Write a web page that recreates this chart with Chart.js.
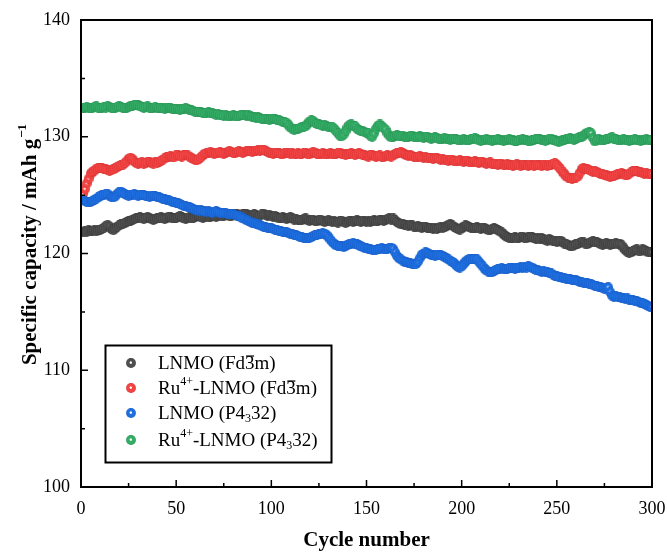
<!DOCTYPE html>
<html>
<head>
<meta charset="utf-8">
<script src="https://cdn.jsdelivr.net/npm/chart.js@4.4.1/dist/chart.umd.min.js"></script>
<style>
  html, body { margin: 0; padding: 0; background: #ffffff; }
  #wrap { width: 667px; height: 552px; position: relative; }
</style>
</head>
<body>
<div id="wrap"><canvas id="c"></canvas></div>
<script>
// ---------------- DATA ----------------
const cycles = Array.from({length: 300}, (_, i) => i + 1);

const xTicks = [0, 50, 100, 150, 200, 250, 300];
const yTicks = [100, 110, 120, 130, 140];

const seriesNames = ["LNMO (Fd3m)", "Ru4+-LNMO (Fd3m)", "LNMO (P4332)", "Ru4+-LNMO (P4332)"];

const lnmoFd3m = [
121.8,121.9,121.85,122.0,121.9,121.95,122.0,121.9,122.0,122.05,
122.1,122.2,122.35,122.45,122.3,122.1,122.0,122.15,122.3,122.4,
122.5,122.55,122.6,122.7,122.75,122.8,122.9,122.95,123.0,123.05,
123.1,123.05,122.95,123.0,123.1,123.05,122.95,122.9,122.95,123.0,
123.05,123.1,123.0,122.95,123.05,123.15,123.1,123.0,123.0,123.05,
123.1,123.2,123.1,123.0,122.95,123.05,123.1,123.0,123.05,123.15,
123.25,123.2,123.1,123.05,123.15,123.2,123.1,123.15,123.25,123.2,
123.15,123.2,123.3,123.25,123.2,123.3,123.35,123.25,123.2,123.3,
123.35,123.4,123.3,123.25,123.35,123.4,123.35,123.3,123.25,123.3,
123.35,123.3,123.2,123.25,123.35,123.4,123.3,123.25,123.3,123.2,
123.15,123.2,123.1,123.0,123.05,123.1,123.0,122.95,123.05,123.1,
123.0,122.9,122.95,122.85,122.9,122.85,122.95,123.0,122.9,122.8,
122.85,122.9,122.8,122.75,122.85,122.9,122.8,122.7,122.75,122.85,
122.8,122.7,122.75,122.7,122.65,122.75,122.8,122.7,122.65,122.7,
122.8,122.75,122.7,122.8,122.85,122.75,122.7,122.8,122.75,122.7,
122.75,122.7,122.8,122.85,122.75,122.8,122.9,122.85,122.8,122.9,
122.95,123.0,122.9,123.0,122.85,122.7,122.6,122.5,122.55,122.45,
122.4,122.35,122.45,122.4,122.3,122.25,122.35,122.3,122.2,122.25,
122.3,122.2,122.15,122.2,122.1,122.15,122.1,122.2,122.3,122.2,
122.25,122.35,122.45,122.5,122.4,122.3,122.2,122.1,122.05,122.15,
122.3,122.4,122.35,122.25,122.2,122.15,122.2,122.25,122.15,122.1,
122.2,122.15,122.1,122.0,122.05,122.1,122.15,122.1,122.0,121.9,
121.8,121.65,121.5,121.4,121.35,121.3,121.35,121.4,121.3,121.35,
121.4,121.45,121.35,121.3,121.4,121.45,121.4,121.3,121.25,121.3,
121.2,121.3,121.25,121.15,121.1,121.2,121.15,121.05,121.1,121.0,
121.05,121.1,120.95,120.85,120.8,120.75,120.65,120.6,120.7,120.8,
120.85,120.9,121.0,120.95,120.85,120.8,120.9,121.0,121.05,121.0,
120.95,120.9,120.8,120.75,120.85,120.9,120.8,120.75,120.8,120.85,
120.9,120.8,120.85,120.7,120.5,120.3,120.15,120.05,120.1,120.2,
120.3,120.35,120.25,120.2,120.35,120.3,120.2,120.1,120.15,120.1
];

const ruFd3m = [
125.1,125.5,126.0,126.4,126.8,127.0,127.1,127.25,127.3,127.35,
127.3,127.25,127.2,127.15,127.1,127.15,127.2,127.3,127.4,127.5,
127.55,127.6,127.75,127.9,128.1,128.2,128.1,127.9,127.75,127.7,
127.75,127.8,127.7,127.75,127.8,127.85,127.75,127.7,127.8,127.75,
127.85,127.95,128.05,128.15,128.25,128.3,128.35,128.3,128.25,128.4,
128.45,128.35,128.3,128.4,128.45,128.4,128.3,128.2,128.1,128.05,
128.0,128.1,128.25,128.4,128.55,128.6,128.65,128.7,128.6,128.55,
128.6,128.65,128.7,128.6,128.55,128.65,128.7,128.75,128.7,128.65,
128.6,128.7,128.75,128.7,128.65,128.7,128.75,128.8,128.75,128.7,
128.75,128.8,128.85,128.8,128.85,128.9,128.8,128.7,128.65,128.6,
128.55,128.6,128.65,128.6,128.55,128.5,128.6,128.65,128.6,128.55,
128.6,128.5,128.55,128.6,128.5,128.55,128.6,128.65,128.55,128.5,
128.6,128.7,128.65,128.55,128.5,128.55,128.6,128.55,128.5,128.55,
128.6,128.55,128.5,128.55,128.6,128.65,128.55,128.5,128.45,128.5,
128.55,128.6,128.5,128.45,128.5,128.6,128.55,128.45,128.4,128.35,
128.3,128.4,128.45,128.35,128.3,128.35,128.4,128.3,128.25,128.35,
128.4,128.35,128.3,128.4,128.5,128.6,128.65,128.7,128.6,128.5,
128.4,128.35,128.4,128.35,128.3,128.25,128.3,128.35,128.25,128.2,
128.25,128.2,128.15,128.2,128.1,128.15,128.2,128.1,128.05,128.1,
128.0,128.05,127.95,128.0,128.05,127.95,127.9,127.95,128.0,127.9,
127.85,127.9,127.95,127.85,127.8,127.85,127.9,127.8,127.75,127.8,
127.85,127.75,127.7,127.75,127.8,127.7,127.65,127.7,127.6,127.65,
127.7,127.6,127.55,127.65,127.6,127.55,127.5,127.6,127.65,127.55,
127.5,127.55,127.6,127.55,127.5,127.6,127.55,127.5,127.55,127.6,
127.55,127.5,127.55,127.6,127.5,127.55,127.6,127.7,127.75,127.6,
127.4,127.2,127.0,126.8,126.6,126.5,126.45,126.4,126.45,126.5,
126.6,126.9,127.2,127.3,127.25,127.2,127.15,127.1,127.0,127.05,
127.0,126.9,126.85,126.8,126.75,126.7,126.6,126.55,126.6,126.65,
126.7,126.8,126.85,126.9,126.8,126.7,126.75,126.85,126.95,127.05,
127.1,127.05,127.0,126.95,126.9,126.85,126.9,126.85,126.8,126.85
];

const lnmoP4332 = [
124.6,124.5,124.45,124.4,124.45,124.5,124.6,124.7,124.8,124.9,
125.0,125.05,125.1,125.1,124.95,124.85,124.8,124.9,125.1,125.25,
125.3,125.2,125.1,125.0,124.95,125.0,125.05,125.1,125.0,124.95,
125.0,125.05,125.0,124.95,124.9,124.85,124.9,124.95,124.9,124.85,
124.8,124.75,124.7,124.65,124.6,124.55,124.5,124.45,124.4,124.35,
124.3,124.25,124.15,124.1,124.05,124.0,123.95,123.9,123.8,123.75,
123.7,123.65,123.7,123.65,123.6,123.55,123.6,123.55,123.5,123.55,
123.6,123.55,123.5,123.45,123.5,123.45,123.4,123.35,123.4,123.35,
123.3,123.25,123.2,123.1,123.0,122.95,122.85,122.8,122.7,122.65,
122.6,122.55,122.5,122.4,122.35,122.3,122.25,122.2,122.2,122.15,
122.1,122.05,122.0,121.95,121.9,121.85,121.8,121.8,121.75,121.7,
121.65,121.6,121.55,121.5,121.45,121.4,121.35,121.3,121.3,121.35,
121.4,121.5,121.55,121.6,121.65,121.7,121.75,121.7,121.6,121.4,
121.2,121.0,120.85,120.7,120.65,120.6,120.6,120.55,120.65,120.75,
120.8,120.85,120.9,120.85,120.8,120.7,120.6,120.55,120.5,120.45,
120.4,120.35,120.3,120.3,120.3,120.35,120.4,120.45,120.4,120.35,
120.4,120.45,120.5,120.4,120.1,119.8,119.6,119.5,119.4,119.3,
119.25,119.2,119.15,119.1,119.1,119.1,119.3,119.6,119.9,120.0,
120.1,120.05,119.95,119.9,119.85,119.8,119.85,119.9,119.85,119.8,
119.7,119.6,119.5,119.4,119.3,119.2,119.0,118.85,118.8,118.9,
119.1,119.3,119.45,119.5,119.55,119.5,119.55,119.5,119.3,119.1,
118.9,118.7,118.55,118.45,118.4,118.4,118.5,118.6,118.65,118.7,
118.75,118.7,118.65,118.7,118.75,118.8,118.75,118.7,118.75,118.8,
118.85,118.8,118.85,118.8,118.9,118.85,118.8,118.7,118.6,118.55,
118.5,118.45,118.5,118.45,118.4,118.35,118.3,118.2,118.1,118.05,
118.0,117.95,117.9,117.9,117.85,117.8,117.8,117.75,117.7,117.7,
117.65,117.6,117.55,117.5,117.5,117.45,117.4,117.35,117.3,117.25,
117.2,117.15,117.1,117.05,117.0,117.05,117.1,116.7,116.4,116.3,
116.35,116.3,116.25,116.2,116.15,116.1,116.15,116.05,116.0,116.0,
115.95,115.9,115.85,115.8,115.75,115.7,115.6,115.5,115.45,115.4
];

const ruP4332 = [
132.45,132.5,132.55,132.5,132.45,132.5,132.55,132.6,132.5,132.45,
132.5,132.55,132.5,132.6,132.55,132.5,132.45,132.5,132.55,132.6,
132.55,132.5,132.45,132.5,132.55,132.6,132.65,132.7,132.75,132.7,
132.6,132.55,132.5,132.55,132.6,132.5,132.45,132.5,132.55,132.5,
132.45,132.5,132.45,132.4,132.45,132.5,132.45,132.4,132.35,132.4,
132.35,132.3,132.35,132.4,132.45,132.4,132.3,132.25,132.2,132.15,
132.1,132.15,132.1,132.05,132.0,132.05,132.1,132.05,132.0,131.95,
131.9,131.95,131.9,131.85,131.8,131.85,131.8,131.75,131.8,131.85,
131.8,131.75,131.8,131.85,131.9,131.85,131.8,131.85,131.75,131.7,
131.65,131.6,131.65,131.6,131.55,131.5,131.55,131.5,131.45,131.5,
131.55,131.5,131.45,131.4,131.35,131.3,131.25,131.2,131.0,130.8,
130.7,130.6,130.65,130.7,130.75,130.8,130.85,130.9,131.1,131.3,
131.4,131.35,131.2,131.1,131.05,131.0,130.95,131.0,130.9,130.85,
130.8,130.85,130.7,130.5,130.3,130.1,130.05,130.2,130.5,130.8,
131.0,131.05,130.95,130.9,130.7,130.6,130.5,130.45,130.4,130.35,
130.3,130.1,130.0,130.3,130.7,130.95,131.05,130.9,130.75,130.6,
130.3,130.1,129.95,130.0,130.1,130.15,130.1,130.05,130.1,130.0,
129.95,130.0,130.05,130.1,130.0,129.95,130.0,130.05,129.95,129.9,
129.95,130.0,129.9,129.85,129.9,129.95,129.9,129.85,129.8,129.85,
129.9,129.85,129.8,129.75,129.8,129.85,129.8,129.75,129.7,129.75,
129.8,129.75,129.7,129.75,129.8,129.85,129.9,129.8,129.7,129.65,
129.7,129.75,129.8,129.75,129.7,129.65,129.7,129.75,129.8,129.75,
129.7,129.65,129.7,129.75,129.8,129.75,129.7,129.6,129.65,129.7,
129.75,129.8,129.75,129.7,129.65,129.6,129.7,129.75,129.8,129.85,
129.8,129.75,129.7,129.65,129.7,129.8,129.85,129.75,129.7,129.6,
129.55,129.6,129.7,129.75,129.8,129.85,129.9,129.8,129.75,129.85,
129.9,129.95,130.0,130.1,130.25,130.35,130.4,130.3,129.9,129.6,
129.7,129.8,129.75,129.7,129.75,129.8,129.85,129.9,129.95,129.85,
129.8,129.75,129.7,129.75,129.8,129.75,129.7,129.65,129.7,129.75,
129.8,129.75,129.7,129.65,129.7,129.75,129.8,129.75,129.7,129.75
];

// ---------------- STYLE ----------------
const SERIF = "'Times New Roman', 'Liberation Serif', 'DejaVu Serif', serif";
const colors = [
  {main: '#4f4f4f', dark: '#353535'},
  {main: '#f34444', dark: '#d32e2e'},
  {main: '#1e6fe0', dark: '#1658c2'},
  {main: '#33ad66', dark: '#248a4f'}
];

function ball(main, dark) {
  const s = 10;
  const c = document.createElement('canvas');
  c.width = s; c.height = s;
  const g = c.getContext('2d');
  const grad = g.createRadialGradient(4.7, 4.5, 0, 5, 5, 4.9);
  grad.addColorStop(0, 'rgba(255,255,255,0.9)');
  grad.addColorStop(0.14, 'rgba(255,255,255,0.55)');
  grad.addColorStop(0.32, main);
  grad.addColorStop(0.85, main);
  grad.addColorStop(1, dark);
  g.fillStyle = grad;
  g.beginPath();
  g.arc(5, 5, 4.9, 0, Math.PI * 2);
  g.fill();
  return c;
}
const balls = colors.map(c => ball(c.main, c.dark));

function toXY(arr) { return arr.map((v, i) => ({x: cycles[i], y: v})); }

const seriesValues = [lnmoFd3m, ruFd3m, lnmoP4332, ruP4332];

// rich legend labels
const legendRich = [
  [{t: 'LNMO (Fd'}, {t: '3', m: 'over'}, {t: 'm)'}],
  [{t: 'Ru'}, {t: '4+', m: 'sup'}, {t: '-LNMO (Fd'}, {t: '3', m: 'over'}, {t: 'm)'}],
  [{t: 'LNMO (P4'}, {t: '3', m: 'sub'}, {t: '32)'}],
  [{t: 'Ru'}, {t: '4+', m: 'sup'}, {t: '-LNMO (P4'}, {t: '3', m: 'sub'}, {t: '32)'}]
];

function drawRich(ctx, segs, x, y, size) {
  let cx = x;
  for (const s of segs) {
    if (s.m === 'sup' || s.m === 'sub') {
      const fs = Math.round(size * 0.62);
      ctx.font = fs + 'px ' + SERIF;
      const dy = s.m === 'sup' ? -size * 0.36 : size * 0.26;
      ctx.fillText(s.t, cx, y + dy);
      cx += ctx.measureText(s.t).width;
    } else {
      ctx.font = size + 'px ' + SERIF;
      ctx.fillText(s.t, cx, y);
      const w = ctx.measureText(s.t).width;
      if (s.m === 'over') {
        ctx.save();
        ctx.lineWidth = 1.2;
        ctx.beginPath();
        ctx.moveTo(cx + 1, y - size * 0.42);
        ctx.lineTo(cx + w - 0.5, y - size * 0.42);
        ctx.strokeStyle = '#000';
        ctx.stroke();
        ctx.restore();
      }
      cx += w;
    }
  }
}

const framePlugin = {
  id: 'framePlugin',
  afterDatasetsDraw(chart) {
    const {ctx, chartArea: a, scales: {x, y}} = chart;
    ctx.save();
    ctx.strokeStyle = '#000';
    // ticks (inward)
    ctx.lineWidth = 1.5;
    ctx.beginPath();
    for (let v = 0; v <= 300; v += 25) {
      const px = x.getPixelForValue(v);
      const len = (v % 50 === 0) ? 7 : 4;
      ctx.moveTo(px, a.bottom);
      ctx.lineTo(px, a.bottom - len);
    }
    for (let v = 100; v <= 140; v += 5) {
      const py = y.getPixelForValue(v);
      const len = (v % 10 === 0) ? 7 : 4;
      ctx.moveTo(a.left, py);
      ctx.lineTo(a.left + len, py);
    }
    ctx.stroke();
    // frame
    ctx.lineWidth = 2;
    ctx.strokeRect(a.left, a.top, a.right - a.left, a.bottom - a.top);

    // legend box
    ctx.lineWidth = 2;
    ctx.strokeRect(105.5, 345.5, 226, 117);
    const rows = [363, 388, 413, 440];
    ctx.fillStyle = '#000';
    ctx.textBaseline = 'middle';
    ctx.textAlign = 'left';
    for (let i = 0; i < 4; i++) {
      ctx.drawImage(balls[i], 131 - 5, rows[i] - 5);
      drawRich(ctx, legendRich[i], 158, rows[i] + 1, 19);
    }

    // axis titles
    ctx.textAlign = 'center';
    ctx.font = 'bold 21px ' + SERIF;
    ctx.fillText('Cycle number', (a.left + a.right) / 2, 541);

    ctx.save();
    ctx.translate(31, 245);
    ctx.rotate(-Math.PI / 2);
    const main = 'Specific capacity / mAh g';
    ctx.font = 'bold 21px ' + SERIF;
    const w1 = ctx.measureText(main).width;
    ctx.font = 'bold 13px ' + SERIF;
    const w2 = ctx.measureText('\u22121').width;
    const start = -(w1 + w2) / 2;
    ctx.textAlign = 'left';
    ctx.font = 'bold 21px ' + SERIF;
    ctx.fillText(main, start, 0);
    ctx.font = 'bold 13px ' + SERIF;
    ctx.fillText('\u22121', start + w1 + 1, -8);
    ctx.restore();

    ctx.restore();
  }
};

const datasets = seriesValues.map((vals, i) => ({
  label: seriesNames[i],
  data: toXY(vals),
  showLine: false,
  pointStyle: balls[i],
  pointRadius: 5,
  pointHoverRadius: 5,
  backgroundColor: colors[i].main,
  borderColor: colors[i].main,
  order: 4 - i
}));

new Chart(document.getElementById('c'), {
  type: 'scatter',
  data: { datasets },
  options: {
    responsive: true,
    maintainAspectRatio: false,
    animation: false,
    events: [],
    layout: { padding: { top: 20, right: 15, bottom: 0, left: 0 } },
    plugins: {
      legend: { display: false },
      tooltip: { enabled: false },
      title: { display: false }
    },
    scales: {
      x: {
        type: 'linear',
        min: 0, max: 300,
        afterFit(s) { s.height = 65; s.paddingLeft = 0; s.paddingRight = 0; },
        afterBuildTicks(s) { s.ticks = xTicks.map(v => ({value: v})); },
        grid: { display: false, drawTicks: false },
        border: { display: false },
        ticks: {
          color: '#000',
          padding: 11,
          font: { family: SERIF, size: 18 },
          maxRotation: 0
        }
      },
      y: {
        type: 'linear',
        min: 100, max: 140,
        afterFit(s) { s.width = 81; s.paddingTop = 0; s.paddingBottom = 0; },
        afterBuildTicks(s) { s.ticks = yTicks.map(v => ({value: v})); },
        grid: { display: false, drawTicks: false },
        border: { display: false },
        ticks: {
          color: '#000',
          padding: 11,
          font: { family: SERIF, size: 18 }
        }
      }
    }
  },
  plugins: [framePlugin]
});
</script>
</body>
</html>
